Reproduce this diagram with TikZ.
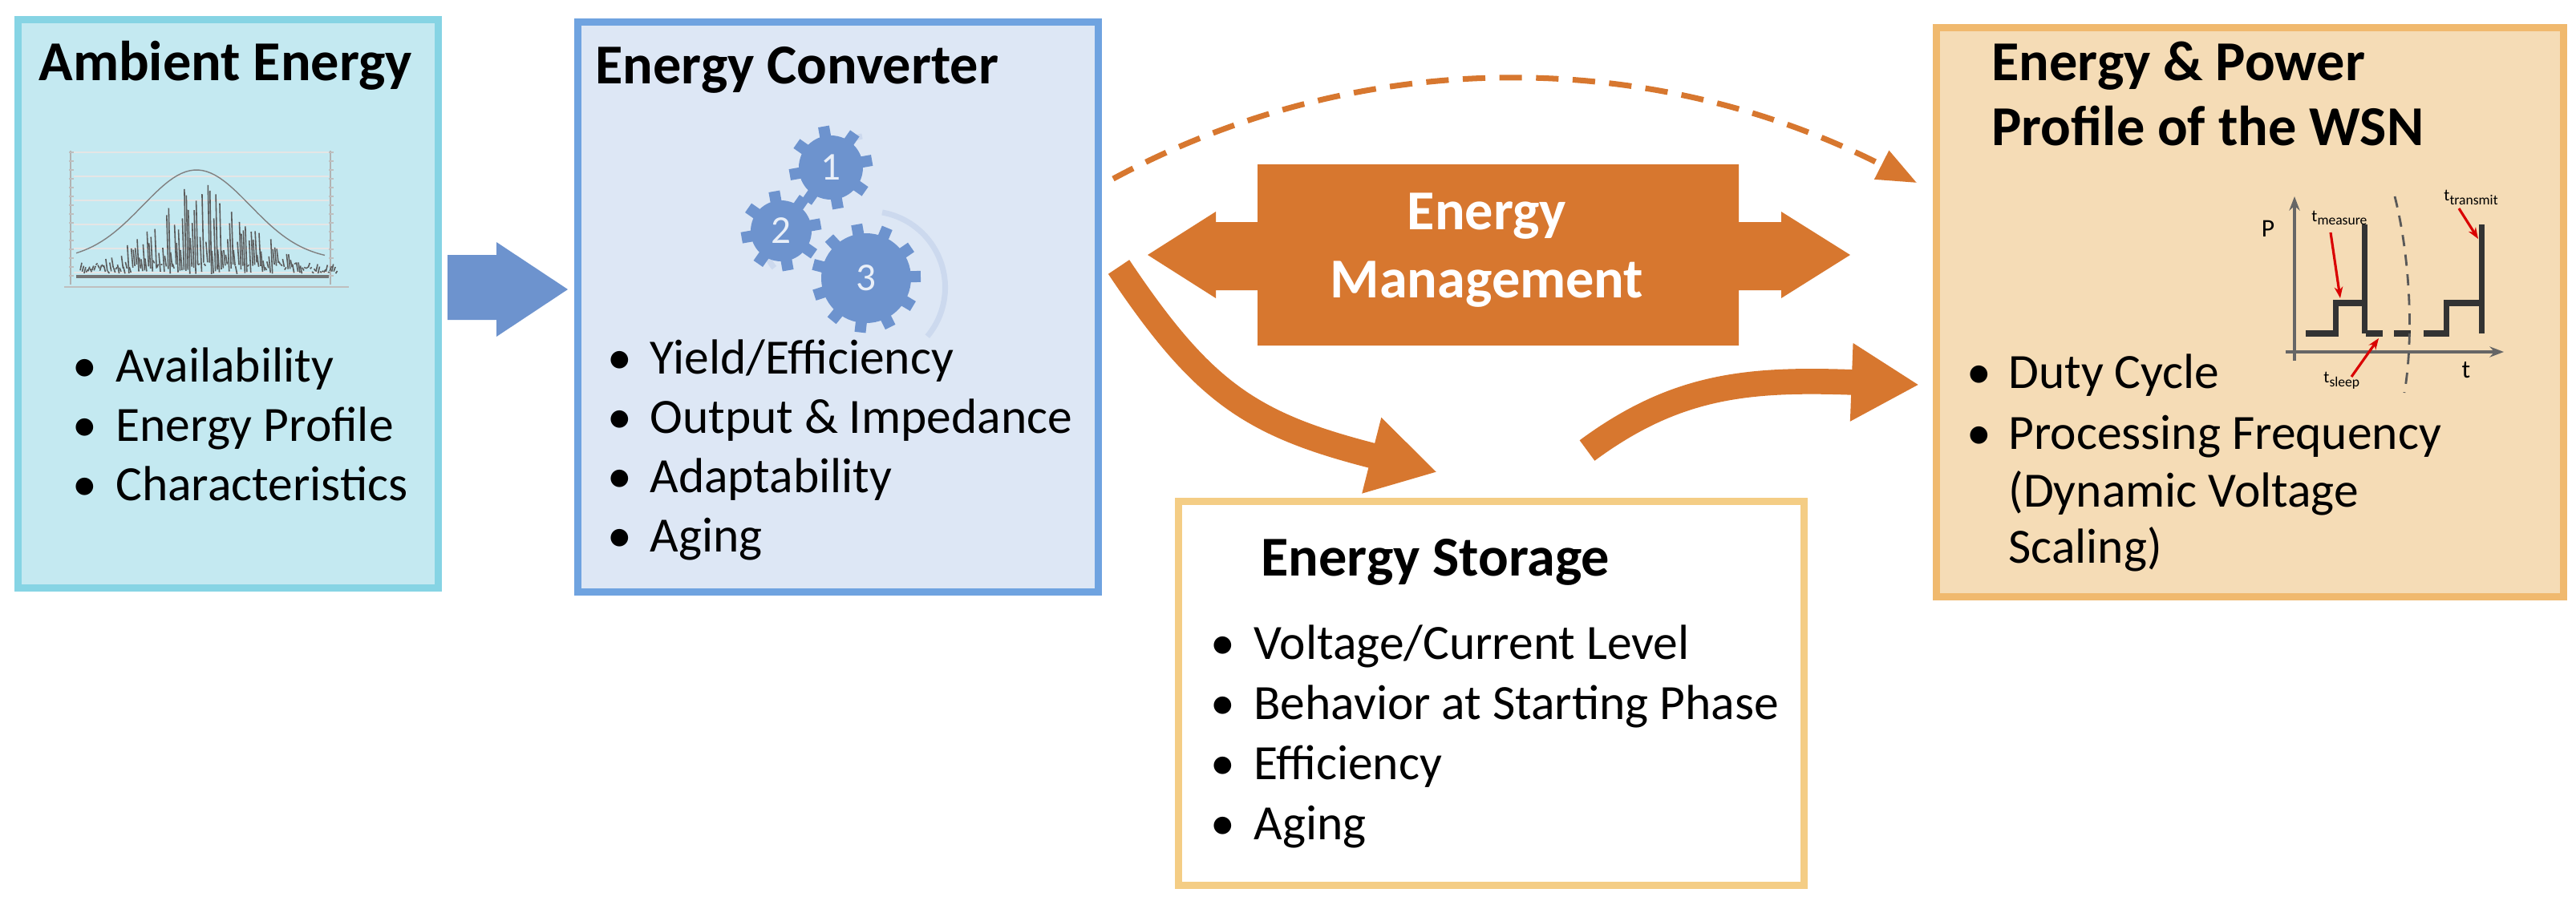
\documentclass[tikz,border=0pt]{standalone}
\usepackage{fontspec}
\setmainfont{Carlito}
\usetikzlibrary{arrows.meta,calc}
\definecolor{ambF}{HTML}{C4E9F1}\definecolor{ambD}{HTML}{86D4E4}
\definecolor{conF}{HTML}{DDE7F5}\definecolor{conD}{HTML}{6FA3E0}
\definecolor{wsnF}{HTML}{F5DCB6}\definecolor{wsnD}{HTML}{F0B96E}
\definecolor{stoD}{HTML}{F4CD85}
\definecolor{org}{HTML}{D7772F}
\definecolor{gblue}{HTML}{6D93CE}
\tikzset{
 box/.style={draw, line width=2.5pt},
 ttl/.style={anchor=base west, font=\fontsize{20}{24}\selectfont\bfseries, align=left},
 itm/.style={anchor=base west, font=\fontsize{17.5}{21.5}\selectfont},
 bul/.style={anchor=base west, font=\fontsize{17.5}{21.5}\selectfont},
}
\newcommand{\mygear}[5]{%
 \fill[gblue] (#1,#2) circle (#3);
 \foreach \k in {0,...,#4}{
  \fill[gblue, rotate around={\k*360/(#4+1)+10:(#1,#2)}] ($(#1,#2)+(-0.07,0)$) rectangle ++(0.14,#3+0.12);
 }
 \node[text=white!85!gblue, font=\fontsize{14}{14}\selectfont] at (#1,#2) {#5};
}
\begin{document}
\begin{tikzpicture}[x=1cm,y=1cm]
\useasboundingbox (0,0) rectangle (32.12,-11.28);
\fill[white] (0,0) rectangle (32.12,-11.28);
% boxes
\node[box, draw=ambD, fill=ambF, minimum width=5.24cm, minimum height=7.09cm, anchor=north west] (amb) at (0.18,-0.20) {};
\node[box, draw=conD, fill=conF, minimum width=6.49cm, minimum height=7.11cm, anchor=north west] (con) at (7.16,-0.23) {};
\node[box, draw=wsnD, fill=wsnF, minimum width=7.82cm, minimum height=7.10cm, anchor=north west] (wsn) at (24.10,-0.30) {};
\node[box, draw=stoD, fill=white, minimum width=7.80cm, minimum height=4.79cm, anchor=north west] (sto) at (14.65,-6.21) {};
% ambient
\node[ttl] (t1) at (0.36,-1.00) {Ambient Energy};
\foreach \y/\t [count=\i] in {-4.76/Availability,-5.50/Energy Profile,-6.24/Characteristics}{
 \node[bul] (ab\i) at (0.78,\y) {\textbullet};
 \node[itm] (a\i) at (1.32,\y) {\t};}
% chart
\draw[gray!50] (0.80,-3.58) -- (4.35,-3.58);
\draw[gray!60] (0.88,-1.88) -- (0.88,-3.55) (4.12,-1.88) -- (4.12,-3.55);
\foreach \yy in {0,...,14}{\draw[gray!50] (0.86,-1.9-\yy*0.11) -- (0.92,-1.9-\yy*0.11) (4.10,-1.9-\yy*0.11) -- (4.16,-1.9-\yy*0.11);}
\foreach \yy in {0,...,5}{\draw[gray!20] (0.92,-1.9-\yy*0.3) -- (4.10,-1.9-\yy*0.3);}
\draw[gray, thin] plot[domain=0.95:4.05, samples=60] (\x,{-3.25+1.13*exp(-((\x-2.45)^2)/0.9)});
\pgfmathsetseed{11}
\foreach \i in {0,...,130}{
 \pgfmathsetmacro{\xx}{1.0+\i*0.0245}
 \pgfmathsetmacro{\hh}{(0.1+0.9*rnd)*1.15*exp(-((\xx-2.5)^2)/0.8)}
 \pgfmathsetmacro{\bb}{0.15*rnd}
 \draw[black!65, line width=0.45pt] (\xx+0.02,{-3.42+\bb}) -- (\xx,{-3.42+\hh});
}
\draw[black!55, line width=1pt] (0.95,-3.45) -- (4.1,-3.45);
% arrow ambient->converter
\coordinate (ar0) at (5.58,-3.18);
\fill[gblue] (ar0) -- (6.19,-3.18) -- (6.19,-3.02) -- (7.08,-3.61) -- (6.19,-4.20) -- (6.19,-3.99) -- (5.58,-3.99) -- cycle;
% converter
\node[ttl] (t2) at (7.30,-1.04) {Energy Converter};
\draw[gblue!35, line width=2pt] (10.75,-1.7) arc (100:150:0.65);
\draw[gblue!35, line width=2pt] (9.55,-2.75) arc (160:220:0.6);
\draw[gblue!35, line width=2pt] (11.0,-2.65) arc (80:-40:0.95);
\mygear{10.36}{-2.09}{0.40}{7}{1}
\mygear{9.74}{-2.88}{0.38}{7}{2}
\mygear{10.80}{-3.47}{0.56}{10}{3}
\foreach \y/\t [count=\i] in {-4.66/{Yield/Efficiency},-5.40/Output \& Impedance,-6.14/Adaptability,-6.88/Aging}{
 \node[bul] (cb\i) at (7.45,\y) {\textbullet};
 \node[itm] (c\i) at (7.98,\y) {\t};}
% energy management double arrow
\coordinate (mL) at (14.31,-3.18); \coordinate (mR) at (23.07,-3.18);
\fill[org] (mL) -- (15.16,-2.64) -- (15.16,-2.77) -- (15.68,-2.77) -- (15.68,-2.05) -- (21.68,-2.05) -- (21.68,-2.77) -- (22.21,-2.77) -- (22.21,-2.64) -- (mR) -- (22.21,-3.72) -- (22.21,-3.62) -- (21.68,-3.62) -- (21.68,-4.31) -- (15.68,-4.31) -- (15.68,-3.62) -- (15.16,-3.62) -- (15.16,-3.72) -- cycle;
\node[font=\fontsize{20}{26}\selectfont\bfseries, text=white, align=center] (em) at (18.54,-3.12) {Energy\\[-2pt]Management};
% dashed arrow
\coordinate (d1) at (13.88,-2.23); \coordinate (d2) at (23.90,-2.28);
\draw[org, line width=2pt, dash pattern=on 8pt off 5pt, -{Triangle[length=14pt,width=11pt]}] (d1) .. controls (17.0,-0.55) and (20.6,-0.6) .. (d2);
% curved arrows
\coordinate (s1) at (13.95,-3.33); \coordinate (s2) at (17.92,-5.89);
\draw[org, line width=9pt, -{Triangle[length=24pt,width=26pt]}] (s1) .. controls (15.0,-4.9) and (15.6,-5.3) .. (s2);
\coordinate (w1) at (19.79,-5.62); \coordinate (w2) at (23.93,-4.80);
\draw[org, line width=9pt, -{Triangle[length=24pt,width=26pt]}] (w1) .. controls (20.9,-4.8) and (21.8,-4.72) .. (w2);
% storage
\node[ttl] (t3) at (15.60,-7.18) {Energy Storage};
\foreach \y/\t [count=\i] in {-8.22/{Voltage/Current Level},-8.97/Behavior at Starting Phase,-9.72/Efficiency,-10.47/Aging}{
 \node[bul] (sb\i) at (14.97,\y) {\textbullet};
 \node[itm] (s\i) at (15.51,\y) {\t};}
% WSN
\node[ttl] (t4) at (24.71,-1.00) {Energy \& Power};
\node[ttl] (t5) at (24.71,-1.81) {Profile of the WSN};
\node[bul] (wb1) at (24.40,-4.84) {\textbullet};
\node[itm] (w1t) at (24.92,-4.84) {Duty Cycle};
\node[bul] (wb2) at (24.40,-5.60) {\textbullet};
\node[itm] (w2t) at (24.92,-5.60) {Processing Frequency};
\node[itm] (w3t) at (24.92,-6.32) {(Dynamic Voltage};
\node[itm] (w4t) at (24.92,-7.02) {Scaling)};
% power chart
\coordinate (yt) at (28.61,-2.45); \coordinate (xt) at (31.22,-4.39);
\draw[gray!80!black, line width=1pt, -{Stealth[length=5pt]}] (28.50,-4.39) -- (xt);
\draw[gray!80!black, line width=1pt, -{Stealth[length=5pt]}] (28.61,-4.50) -- (yt);
\draw[black!80, line width=2pt] (28.75,-4.16) -- (29.12,-4.16) -- (29.12,-3.78) -- (29.47,-3.78);
\draw[black!80, line width=2pt] (29.48,-4.16) -- (29.48,-2.80);
\draw[black!80, line width=2pt, dash pattern=on 6pt off 4pt] (29.50,-4.16) -- (30.20,-4.16);
\draw[black!80, line width=2pt] (30.22,-4.16) -- (30.50,-4.16) -- (30.50,-3.78) -- (30.93,-3.78);
\draw[black!80, line width=2pt] (30.94,-4.16) -- (30.94,-2.80);
\draw[gray!70!black, thick, dash pattern=on 4pt off 3pt] (29.86,-2.45) .. controls (30.05,-3.2) and (30.1,-4.2) .. (29.98,-4.9);
\node[font=\fontsize{9}{9}\selectfont] (P) at (28.28,-2.85) {P};
\node[font=\fontsize{9}{9}\selectfont] (tt) at (30.75,-4.62) {t};
\node[font=\fontsize{6}{6}\selectfont, anchor=west] (tm) at (28.70,-2.72) {t\textsubscript{measure}};
\node[font=\fontsize{6}{6}\selectfont, anchor=west] (ttr) at (30.35,-2.46) {t\textsubscript{transmit}};
\node[font=\fontsize{6}{6}\selectfont, anchor=west] (ts) at (28.85,-4.75) {t\textsubscript{sleep}};
\coordinate (tmE) at (29.18,-3.72); \coordinate (ttE) at (30.90,-2.98); \coordinate (tsE) at (29.66,-4.22);
\draw[red!85!black, line width=0.9pt, -{Stealth[length=4pt]}] (29.06,-2.90) -- (tmE);
\draw[red!85!black, line width=0.9pt, -{Stealth[length=4pt]}] (30.66,-2.60) -- (ttE);
\draw[red!85!black, line width=0.9pt, -{Stealth[length=4pt]}] (29.32,-4.70) -- (tsE);
\end{tikzpicture}
\end{document}
